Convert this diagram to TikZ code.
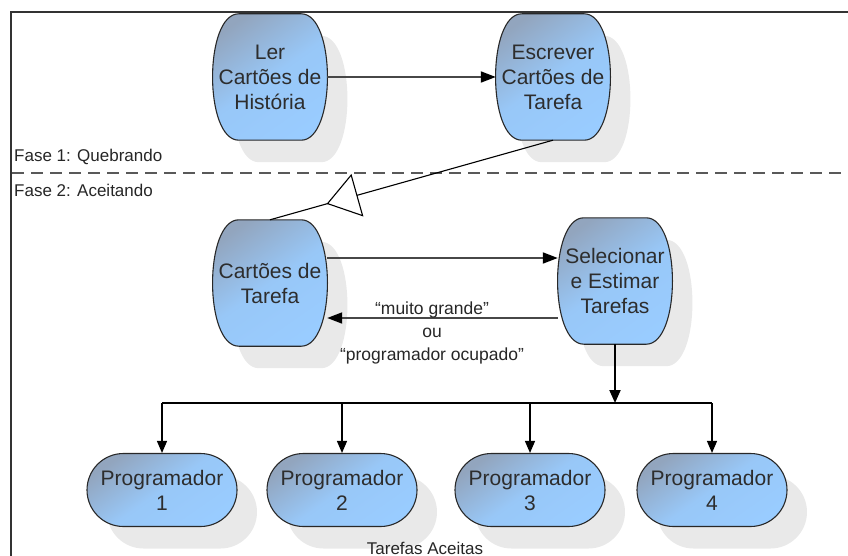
\documentclass[tikz,border=0pt]{standalone}
\usepackage{fontspec}
\setmainfont{Liberation Sans}
\usetikzlibrary{arrows.meta,calc,backgrounds,shadows,decorations.markings}
\definecolor{topc}{RGB}{146,165,190}
\definecolor{botc}{RGB}{153,204,255}
\definecolor{edgec}{RGB}{40,40,40}
\definecolor{shadc}{RGB}{233,233,233}
\definecolor{txtc}{RGB}{45,45,45}
\tikzset{
  fillsty/.style={top color=topc, bottom color=botc, middle color=botc!88!topc, shading angle=35, draw=edgec, line width=1.1pt},
  shadsty/.style={fill=shadc, draw=none, transform canvas={shift={(20pt,-22pt)}}},
  bigtext/.style={font=\fontsize{21}{25}\selectfont, text=txtc, align=center, inner sep=0pt},
  tallnode/.style={bigtext, minimum width=114pt, minimum height=126pt},
  prog/.style={bigtext, minimum width=150pt, minimum height=73pt, rounded corners=36.5pt, fillsty,
    drop shadow={shadow xshift=20pt, shadow yshift=-22pt, fill=shadc, opacity=1}},
  harrow/.style={draw=black!72, line width=1.8pt, -{Triangle[length=15pt,width=11pt,color=black]}},
  barline/.style={draw=black, line width=1.3pt},
  downarrow/.style={barline, -{Triangle[length=12pt,width=10pt]}},
  phase/.style={font=\fontsize{17}{19}\selectfont, text=black!85, inner sep=0pt},
  lab/.style={font=\fontsize{17.5}{23}\selectfont, text=black!85, align=center, inner sep=0pt},
  gen/.style={draw=black, line width=1.1pt,
    decoration={markings, mark=at position 0.8 with {\arrow{Triangle[length=32pt,width=44pt,fill=white]}}},
    postaction={decorate}},
}
\newcommand\blobdraw[2]{%
  \path[#2] ($(#1.north west)+(26,0)$) -- ($(#1.north east)+(-26,0)$)
    .. controls ($(#1.north east)+(9,0)$) and ($(#1.south east)+(9,0)$) .. ($(#1.south east)+(-26,0)$)
    -- ($(#1.south west)+(26,0)$)
    .. controls ($(#1.south west)+(-9,0)$) and ($(#1.north west)+(-9,0)$) .. cycle;}
\newcommand\blob[1]{%
  \begin{pgfonlayer}{background}
    \blobdraw{#1}{shadsty}
    \blobdraw{#1}{fillsty}
  \end{pgfonlayer}}
\begin{document}
\begin{tikzpicture}[x=1pt,y=-1pt]
\useasboundingbox (0,0) rectangle (848,556);
% frame and phase divider
\draw[draw=black!80, line width=1.5pt] (11,556) -- (11,12) -- (848,12);
\draw[draw=black!65, line width=2.2pt, dash pattern=on 12pt off 7pt] (12,173) -- (848,173);
\node[phase, anchor=west] (f1) at (14,157) {Fase 1: Quebrando};
\node[phase, anchor=west] (f2) at (14,190) {Fase 2: Aceitando};
% tall nodes
\node[tallnode] (ler) at (270,77) {Ler\\Cartões de\\História};
\node[tallnode] (esc) at (553,77) {Escrever\\Cartões de\\Tarefa};
\node[tallnode] (car) at (270,283) {Cartões de\\Tarefa};
\node[tallnode] (sel) at (615,281) {Selecionar\\e Estimar\\Tarefas};
\blob{ler}\blob{esc}\blob{car}\blob{sel}
% programmers
\node[prog] (p1) at (162,490) {Programador\\1};
\node[prog] (p2) at (342,490) {Programador\\2};
\node[prog] (p3) at (530,490) {Programador\\3};
\node[prog] (p4) at (712,490) {Programador\\4};
% connectors
\draw[harrow] (ler.east) -- (esc.west);
\draw[gen] (esc.south) -- (car.north);
\draw[harrow] ([yshift=25pt]car.east) -- ([yshift=25pt]car.east -| sel.west);
\draw[harrow] ([yshift=-37pt]sel.west) -- ([yshift=-37pt]sel.west -| car.east);
\node[lab] (lbl) at (432,333) {“muito grande”\\ou\\“programador ocupado”};
\coordinate (barY) at (0,403);
\draw[barline] (p1.north |- barY) -- (p4.north |- barY);
\draw[barline, line width=2pt, -{Triangle[length=13pt,width=11pt]}] (sel.south) -- (sel.south |- barY);
\foreach \p in {p1,p2,p3,p4}
  \draw[downarrow] (\p.north |- barY) -- (\p.north);
\node[phase] (ta) at (425,548) {Tarefas Aceitas};
\end{tikzpicture}
\end{document}
